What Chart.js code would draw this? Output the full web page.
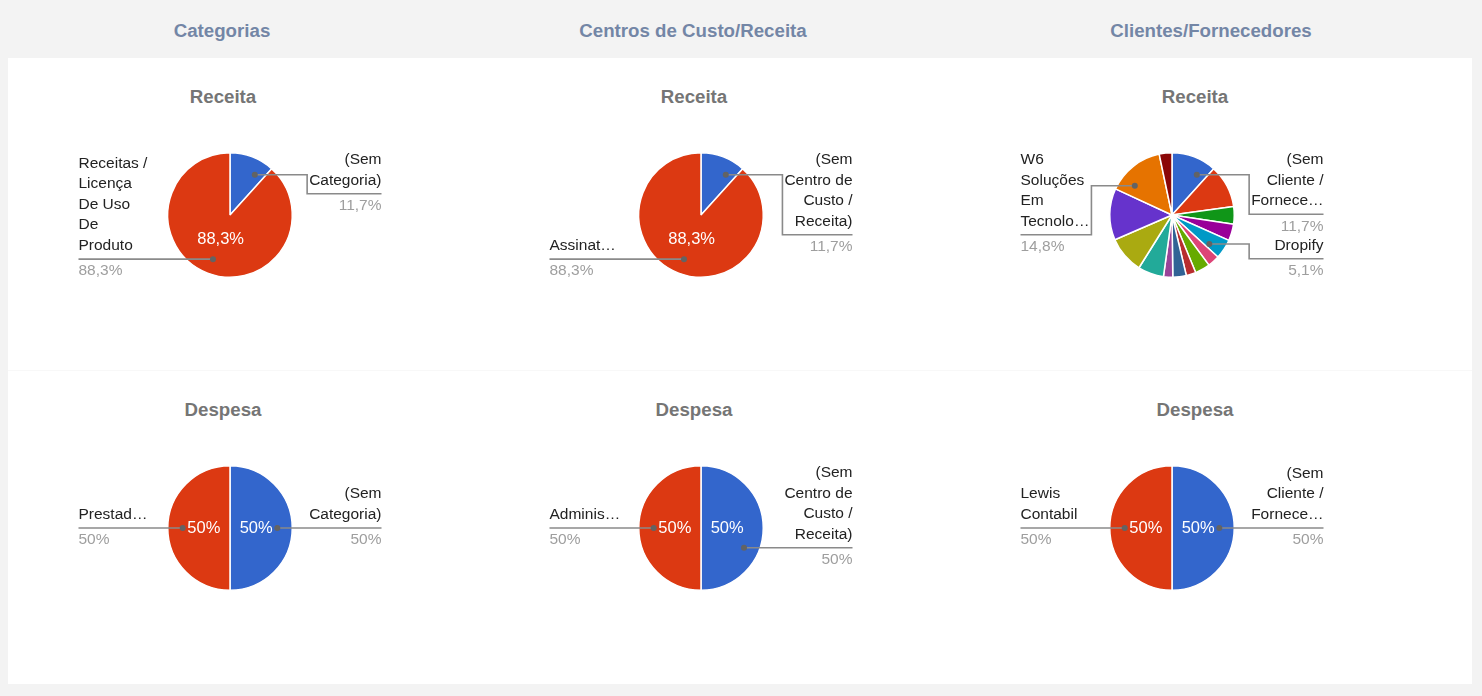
<!DOCTYPE html>
<html lang="pt-BR">
<head>
<meta charset="utf-8">
<title>Receitas e Despesas</title>
<script src="https://cdn.jsdelivr.net/npm/chart.js@4.4.1/dist/chart.umd.min.js"></script>
<style>
    body { margin: 0; background: #f3f3f3; font-family: "Liberation Sans", Arial, sans-serif; }
    .page { position: relative; width: 1482px; height: 696px; overflow: hidden; }
    .col-title { position: absolute; top: 20px; width: 400px; margin-left: -200px; text-align: center;
                 font-size: 18.7px; font-weight: bold; color: #7386a6; line-height: 22px; }
    .panel { position: absolute; left: 8px; top: 58px; width: 1464px; height: 626px; background: #fff; }
    .sep { position: absolute; left: 8px; top: 370px; width: 1464px; height: 1px; background: #f8f8f8; }
    .chart-title { position: absolute; width: 200px; margin-left: -100px; text-align: center;
                   font-size: 18.7px; font-weight: bold; color: #757575; line-height: 22px; }
    canvas { position: absolute; }
</style>
</head>
<body>
<div class="page">
    <div class="col-title" style="left:222px">Categorias</div>
    <div class="col-title" style="left:693px">Centros de Custo/Receita</div>
    <div class="col-title" style="left:1211px">Clientes/Fornecedores</div>

    <div class="panel"></div>
    <div class="sep"></div>

    <div class="chart-title" style="left:223px; top:86px">Receita</div>
    <div class="chart-title" style="left:694px; top:86px">Receita</div>
    <div class="chart-title" style="left:1195px; top:86px">Receita</div>
    <div class="chart-title" style="left:223px; top:399px">Despesa</div>
    <div class="chart-title" style="left:694px; top:399px">Despesa</div>
    <div class="chart-title" style="left:1195px; top:399px">Despesa</div>

    <canvas id="catReceita" width="330" height="300" style="left:65px; top:65px"></canvas>
    <canvas id="centroReceita" width="330" height="300" style="left:536px; top:65px"></canvas>
    <canvas id="clienteReceita" width="330" height="300" style="left:1007px; top:65px"></canvas>
    <canvas id="catDespesa" width="330" height="300" style="left:65px; top:378px"></canvas>
    <canvas id="centroDespesa" width="330" height="300" style="left:536px; top:378px"></canvas>
    <canvas id="clienteDespesa" width="330" height="300" style="left:1007px; top:378px"></canvas>
</div>

<script>
// Data (percent shares)
const categoriaReceitaLabels = ['(Sem Categoria)', 'Receitas / Licença De Uso De Produto'];
const categoriaReceitaValues = [11.7, 88.3];

const centroReceitaLabels = ['(Sem Centro de Custo / Receita)', 'Assinat…'];
const centroReceitaValues = [11.7, 88.3];

// only three slices are labelled in the picture, the rest stay unnamed
const clienteReceitaLabels = ['(Sem Cliente / Fornece…', null, null, null, 'Dropify', null, null, null,
    null, null, null, null, null, 'W6 Soluções Em Tecnolo…', null];
const clienteReceitaValues = [11.7, 11.1, 4.6, 4.3, 5.1, 3.1, 3.9, 2.5, 3.5, 2.4, 6.7, 9.6, 13.4, 14.8, 3.3];

const categoriaDespesaLabels = ['(Sem Categoria)', 'Prestad…'];
const categoriaDespesaValues = [50, 50];

const centroDespesaLabels = ['(Sem Centro de Custo / Receita)', 'Adminis…'];
const centroDespesaValues = [50, 50];

const clienteDespesaLabels = ['(Sem Cliente / Fornece…', 'Lewis Contabil'];
const clienteDespesaValues = [50, 50];

const twoColors = ['#3366cc', '#dc3912'];
const manyColors = ['#3366cc', '#dc3912', '#109618', '#990099', '#0099c6', '#dd4477', '#66aa00', '#b82e2e',
    '#316395', '#994499', '#22aa99', '#aaaa11', '#6633cc', '#e67300', '#8b0707'];

const FONT = '"Liberation Sans", Arial, sans-serif';

function fmtPct(p) {
    const v = Math.round(p * 10) / 10;
    return (Number.isInteger(v) ? v.toFixed(0) : v.toFixed(1)).replace('.', ',') + '%';
}

function wrapText(ctx, text, maxW) {
    const words = text.split(' ');
    const lines = [];
    let cur = '';
    words.forEach(w => {
        const test = cur ? cur + ' ' + w : w;
        if (cur && ctx.measureText(test).width > maxW) {
            lines.push(cur);
            cur = w;
        } else {
            cur = test;
        }
    });
    if (cur) lines.push(cur);
    return lines;
}

// Google-style side labels with elbow leader lines + percentages inside big slices
const sideLabels = {
    id: 'sideLabels',
    afterDatasetsDraw(chart) {
        const ctx = chart.ctx;
        const arcs = chart.getDatasetMeta(0).data;
        const values = chart.data.datasets[0].data;
        const names = chart.data.labels;
        const total = values.reduce((a, b) => a + b, 0);
        const cx = arcs[0].x, cy = arcs[0].y, r = arcs[0].outerRadius;
        const reach = 151.5, lh = 20.5, wrapW = 74, dotDist = r * 0.76;

        ctx.save();
        ctx.font = '15.5px ' + FONT;
        ctx.textBaseline = 'middle';

        const items = [];
        arcs.forEach((arc, i) => {
            if (!names[i]) return;
            const mid = (arc.startAngle + arc.endAngle) / 2;
            const lines = wrapText(ctx, names[i], wrapW);
            items.push({
                arc, mid, lines,
                pct: fmtPct(values[i] / total * 100),
                side: Math.cos(mid) >= 0 ? 1 : -1,
                wantY: cy + Math.sin(mid) * dotDist,
                blockW: Math.max(...lines.map(l => ctx.measureText(l).width))
            });
        });

        [1, -1].forEach(side => {
            const group = items.filter(it => it.side === side).sort((a, b) => a.wantY - b.wantY);
            if (!group.length) return;
            // all leaders on one side turn at the same column
            const colW = Math.max(...group.map(it => it.blockW));
            const edge = cx + side * reach;
            const elbow = edge - side * (colW + 2);
            let floor = cy - r + 7;

            group.forEach(it => {
                const n = it.lines.length;
                const ly = Math.max(it.wantY, floor + (n - 1) * lh + 13.5);
                floor = ly + 31;

                // dot: stay near the middle of the slice, as close to the label line as possible
                const span = it.arc.endAngle - it.arc.startAngle;
                let best = it.mid, bestD = Infinity;
                for (let k = 0; k <= 300; k++) {
                    const a = it.mid - span / 4 + span / 2 * k / 300;
                    const d = Math.abs(cy + Math.sin(a) * dotDist - ly);
                    if (d < bestD) { bestD = d; best = a; }
                }
                const dx = cx + Math.cos(best) * dotDist;
                const dy = bestD < 1.5 ? ly : cy + Math.sin(best) * dotDist;

                ctx.strokeStyle = '#8a8a8a';
                ctx.lineWidth = 1.6;
                ctx.beginPath();
                ctx.moveTo(dx, dy);
                if (dy !== ly) {
                    ctx.lineTo(elbow, dy);
                    ctx.lineTo(elbow, ly);
                }
                ctx.lineTo(edge, ly);
                ctx.stroke();

                ctx.fillStyle = '#636363';
                ctx.beginPath();
                ctx.arc(dx, dy, 3, 0, Math.PI * 2);
                ctx.fill();

                ctx.textAlign = side > 0 ? 'right' : 'left';
                ctx.fillStyle = '#222222';
                it.lines.forEach((line, j) => {
                    ctx.fillText(line, edge, ly - 13.5 - (n - 1 - j) * lh);
                });
                ctx.fillStyle = '#9e9e9e';
                ctx.fillText(it.pct, edge, ly + 12);
            });
        });

        // percentage text inside the large slices
        ctx.font = '16.5px ' + FONT;
        ctx.textAlign = 'center';
        ctx.fillStyle = '#ffffff';
        arcs.forEach((arc, i) => {
            const share = values[i] / total;
            if (share < 0.2) return;
            const mid = (arc.startAngle + arc.endAngle) / 2;
            ctx.fillText(fmtPct(share * 100), cx + Math.cos(mid) * r * 0.42, cy + Math.sin(mid) * r * 0.42);
        });
        ctx.restore();
    }
};

function pieConfig(labels, values, colors) {
    return {
        type: 'pie',
        data: {
            labels: labels,
            datasets: [{
                data: values,
                backgroundColor: colors,
                borderColor: '#ffffff',
                borderWidth: 1.5,
                hoverOffset: 0
            }]
        },
        options: {
            responsive: false,
            animation: false,
            layout: {
                padding: { left: 102, right: 102, top: 87, bottom: 87 }
            },
            plugins: {
                legend: { display: false },
                tooltip: {
                    callbacks: {
                        label: function(context) {
                            return ' ' + fmtPct(context.parsed);
                        }
                    }
                }
            }
        },
        plugins: [sideLabels]
    };
}

new Chart(document.getElementById('catReceita'), pieConfig(categoriaReceitaLabels, categoriaReceitaValues, twoColors));
new Chart(document.getElementById('centroReceita'), pieConfig(centroReceitaLabels, centroReceitaValues, twoColors));
new Chart(document.getElementById('clienteReceita'), pieConfig(clienteReceitaLabels, clienteReceitaValues, manyColors));
new Chart(document.getElementById('catDespesa'), pieConfig(categoriaDespesaLabels, categoriaDespesaValues, twoColors));
new Chart(document.getElementById('centroDespesa'), pieConfig(centroDespesaLabels, centroDespesaValues, twoColors));
new Chart(document.getElementById('clienteDespesa'), pieConfig(clienteDespesaLabels, clienteDespesaValues, twoColors));
</script>
</body>
</html>
